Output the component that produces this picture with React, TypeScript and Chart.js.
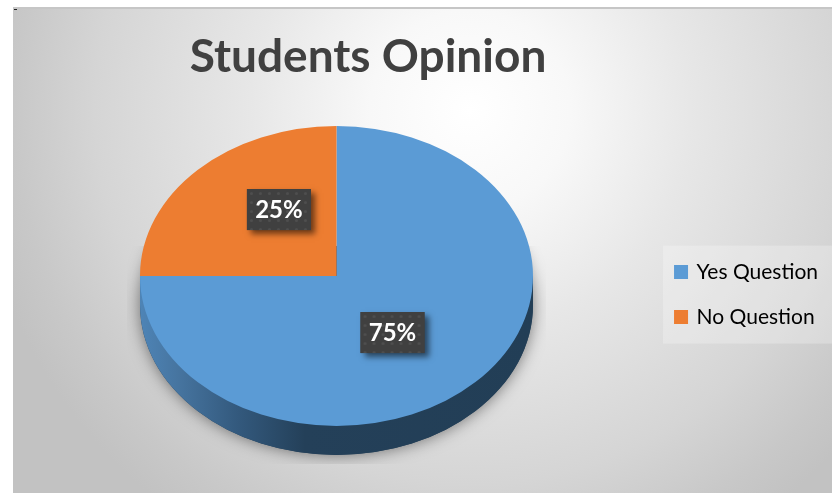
import React, { useEffect, useRef } from "react";
import { Chart, registerables } from "chart.js";

Chart.register(...registerables);

const categories = ["Yes Question", "No Question"];
const shares = [75, 25];
const sliceColors = ["#5B9BD5", "#ED7D31"];
const titleText = "Students Opinion";

const WIDTH = 832;
const HEIGHT = 493;

// Tilted disc: on-canvas centre, radii and rim depth.
const disc = { cx: 336.5, cy: 276, rx: 196.5, ry: 150, depth: 29 };
// Label box centres, as fractions of the disc radii from its centre.
const labelOffsets = [
  { x: 0.285, y: 0.377 },
  { x: -0.293, y: -0.443 },
];

function dotPattern(ctx: CanvasRenderingContext2D) {
  const tile = document.createElement("canvas");
  tile.width = 9;
  tile.height = 9;
  const t = tile.getContext("2d")!;
  t.fillStyle = "#404040";
  t.fillRect(0, 0, 9, 9);
  t.fillStyle = "#4f4f4f";
  t.beginPath();
  t.arc(4.5, 4.5, 1.6, 0, Math.PI * 2);
  t.fill();
  return ctx.createPattern(tile, "repeat")!;
}

const backdropPlugin = {
  id: "backdrop",
  beforeDraw(chart: any) {
    const { ctx, legend } = chart;
    ctx.save();
    ctx.fillStyle = "#ffffff";
    ctx.fillRect(0, 0, WIDTH, HEIGHT);
    const g = ctx.createRadialGradient(470, 110, 0, 470, 110, 500);
    g.addColorStop(0, "#ffffff");
    g.addColorStop(0.2, "#f8f8f8");
    g.addColorStop(0.44, "#e7e7e7");
    g.addColorStop(0.75, "#d5d5d5");
    g.addColorStop(0.91, "#c8c8c8");
    g.addColorStop(1, "#c2c2c2");
    ctx.fillStyle = g;
    ctx.fillRect(13, 8, WIDTH - 13, HEIGHT - 8);
    ctx.fillStyle = "#c6c6c6";
    ctx.fillRect(13, 7, WIDTH - 13, 2);
    ctx.fillStyle = "#222222";
    ctx.fillRect(14, 9, 3, 1);

    // Translucent panel behind the legend entries.
    const boxes = legend.legendHitBoxes;
    const first = boxes[0];
    const last = boxes[boxes.length - 1];
    ctx.fillStyle = "rgba(255,255,255,0.25)";
    ctx.fillRect(first.left - 13, first.top - 16, 171, last.top + last.height - first.top + 32);
    ctx.restore();
  },
};

const tiltPlugin = {
  id: "tilt",
  beforeDatasetsDraw(chart: any) {
    const { ctx } = chart;
    const arc = chart.getDatasetMeta(0).data[0];
    const { cx, cy, rx, ry, depth } = disc;
    const bottom = cy + depth;

    // Soft shadow around the lower part of the rim.
    ctx.save();
    ctx.beginPath();
    ctx.rect(cx - rx - 13, cy - 30, rx * 2 + 26, ry + depth + 39);
    ctx.clip();
    ctx.shadowColor = "rgba(0,0,0,0.5)";
    ctx.shadowBlur = 16;
    ctx.fillStyle = "#244059";
    ctx.beginPath();
    ctx.ellipse(cx, bottom, rx, ry, 0, 0, Math.PI * 2);
    ctx.fill();
    ctx.restore();

    // Rim of the disc.
    ctx.save();
    const rim = ctx.createLinearGradient(cx - rx, 0, cx + rx, 0);
    rim.addColorStop(0, "#4E84B6");
    rim.addColorStop(0.1, "#46749F");
    rim.addColorStop(0.25, "#33597D");
    rim.addColorStop(0.42, "#244059");
    rim.addColorStop(1, "#223E56");
    ctx.fillStyle = rim;
    ctx.beginPath();
    ctx.ellipse(cx, bottom, rx, ry, 0, 0, Math.PI);
    ctx.lineTo(cx - rx, cy);
    ctx.lineTo(cx + rx, cy);
    ctx.closePath();
    ctx.fill();
    ctx.restore();

    // Squash the round pie into the disc's top face.
    ctx.save();
    ctx.translate(cx, cy);
    ctx.scale(rx / arc.outerRadius, ry / arc.outerRadius);
    ctx.translate(-arc.x, -arc.y);
  },
  afterDatasetsDraw(chart: any) {
    const { ctx } = chart;
    ctx.restore();

    const values: number[] = chart.data.datasets[0].data;
    const total = values.reduce((a, b) => a + b, 0);
    const pattern = dotPattern(ctx);
    const w = 64;
    const h = 41;
    values.forEach((value, i) => {
      const x = disc.cx + labelOffsets[i].x * disc.rx;
      const y = disc.cy + labelOffsets[i].y * disc.ry;
      ctx.save();
      ctx.shadowColor = "rgba(0,0,0,0.55)";
      ctx.shadowBlur = 6;
      ctx.shadowOffsetX = 4;
      ctx.shadowOffsetY = 4;
      ctx.fillStyle = "#404040";
      ctx.fillRect(x - w / 2, y - h / 2, w, h);
      ctx.restore();
      ctx.save();
      ctx.translate(x - w / 2, y - h / 2);
      ctx.fillStyle = pattern;
      ctx.fillRect(0, 0, w, h);
      ctx.restore();
      ctx.save();
      ctx.fillStyle = "#ffffff";
      ctx.font = "bold 24px Lato";
      ctx.textAlign = "center";
      ctx.textBaseline = "middle";
      ctx.fillText(`${Math.round((value / total) * 100)}%`, x, y + 1);
      ctx.restore();
    });
  },
};

export default function App() {
  const canvasRef = useRef<HTMLCanvasElement>(null);

  useEffect(() => {
    const chart = new Chart(canvasRef.current!, {
      type: "pie",
      data: {
        labels: categories,
        datasets: [{ data: shares, backgroundColor: sliceColors, borderWidth: 0 }],
      },
      options: {
        responsive: false,
        animation: false,
        layout: { padding: { left: 84, right: 4, top: 0, bottom: 0 } },
        plugins: {
          tooltip: { enabled: false },
          title: {
            display: true,
            text: titleText,
            fullSize: false,
            color: "#404040",
            font: { family: "Lato", size: 46, weight: "bold" },
            padding: { top: 30, bottom: 11 },
          },
          legend: {
            position: "right",
            fullSize: false,
            labels: {
              color: "#404040",
              font: { family: "Lato", size: 21 },
              boxWidth: 10,
              boxHeight: 10,
              padding: 24,
              generateLabels: (c: any) =>
                c.data.labels.map((text: string, i: number) => ({
                  text,
                  fillStyle: sliceColors[i],
                  strokeStyle: sliceColors[i],
                  lineWidth: 4,
                  index: i,
                })),
            },
          },
        },
      },
      plugins: [backdropPlugin, tiltPlugin],
    } as any);
    return () => chart.destroy();
  }, []);

  return (
    <div style={{ position: "absolute", left: 0, top: 0, width: WIDTH, height: HEIGHT }}>
      <canvas ref={canvasRef} width={WIDTH} height={HEIGHT} style={{ display: "block" }} />
    </div>
  );
}
